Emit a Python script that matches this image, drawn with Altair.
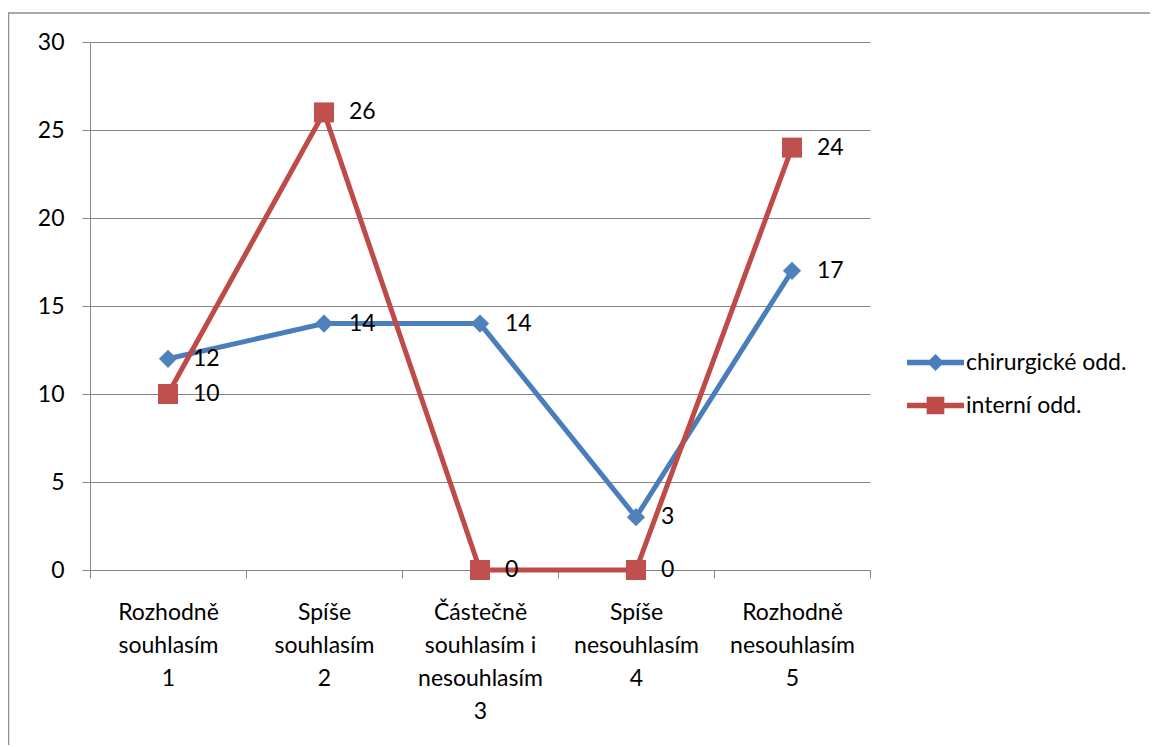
import altair as alt
import pandas as pd

categories = [
    "Rozhodně\nsouhlasím\n1",
    "Spíše\nsouhlasím\n2",
    "Částečně\nsouhlasím i\nnesouhlasím\n3",
    "Spíše\nnesouhlasím\n4",
    "Rozhodně\nnesouhlasím\n5",
]
series_names = ["chirurgické odd.", "interní odd."]
chirurgicke = [12, 14, 14, 3, 17]
interni = [10, 26, 0, 0, 24]
y_ticks = [0, 5, 10, 15, 20, 25, 30]

BLUE = "#4A7EBB"
RED = "#BE4B48"
FONT = "Lato"
FS = 23
GRID = "#868686"

rows = []
for c, v in zip(categories, chirurgicke):
    rows.append({"cat": c, "value": v, "series": series_names[0]})
for c, v in zip(categories, interni):
    rows.append({"cat": c, "value": v, "series": series_names[1]})
df = pd.DataFrame(rows)

W, H = 780, 528

x_enc = alt.X(
    "cat:N",
    sort=categories,
    scale=alt.Scale(type="band", domain=categories, paddingInner=0, paddingOuter=0),
    axis=alt.Axis(
        title=None,
        labelAngle=0,
        labelAlign="center",
        labelBaseline="top",
        labelExpr="split(datum.label, '\\n')",
        labelLineHeight=33,
        labelPadding=23,
        labelFontSize=FS,
        labelFont=FONT,
        labelColor="#000000",
        tickBand="extent",
        tickSize=8,
        tickColor=GRID,
        domainColor=GRID,
        grid=False,
        labelLimit=0,
    ),
)
y_enc = alt.Y(
    "value:Q",
    scale=alt.Scale(domain=[0, 30], nice=False, zero=True),
    axis=alt.Axis(
        title=None,
        values=y_ticks,
        labelFontSize=FS,
        labelFont=FONT,
        labelColor="#000000",
        labelPadding=18,
        tickSize=8,
        tickColor=GRID,
        domainColor=GRID,
        grid=True,
        gridColor=GRID,
        gridWidth=1,
    ),
)

base = alt.Chart(df).encode(x=x_enc, y=y_enc)

blue_line = base.transform_filter(alt.datum.series == series_names[0]).mark_line(
    color=BLUE, strokeWidth=5
)
blue_pts = base.transform_filter(alt.datum.series == series_names[0]).mark_point(
    shape="diamond", filled=True, size=330, color="#4F81BD", opacity=1
)
red_line = base.transform_filter(alt.datum.series == series_names[1]).mark_line(
    color=RED, strokeWidth=5
)
red_pts = base.transform_filter(alt.datum.series == series_names[1]).mark_point(
    shape="square", filled=True, size=400, color="#C0504D", opacity=1
)
labels = base.mark_text(
    align="left", baseline="middle", dx=25, fontSize=FS, font=FONT, color="#000000"
).encode(text="value:Q")

diamond_path = "M-1,-0.1H1V0.1H-1Z M-0.3,0L0,-0.3L0.3,0L0,0.3Z"
square_path = "M-1,-0.1H1V0.1H-1Z M-0.31,-0.31H0.31V0.31H-0.31Z"

legend_props = dict(
    title=None,
    orient="none",
    legendX=817,
    legendY=292,
    padding=0,
    symbolSize=3249,
    symbolOpacity=1,
    symbolStrokeWidth=0,
    labelFontSize=FS,
    labelFont=FONT,
    labelColor="#000000",
    labelOffset=2,
    labelLimit=0,
    rowPadding=2,
)

legend_layer = base.mark_point(filled=True, opacity=0).encode(
    color=alt.Color(
        "series:N",
        scale=alt.Scale(domain=series_names, range=[BLUE, RED]),
        legend=alt.Legend(**legend_props),
    ),
    shape=alt.Shape(
        "series:N",
        scale=alt.Scale(domain=series_names, range=[diamond_path, square_path]),
        legend=alt.Legend(**legend_props),
    ),
)

one = alt.Data(values=[{"k": 1}])
frame_top = alt.Chart(one).mark_rule(color="#8c8c8c", strokeWidth=1.5).encode(
    x=alt.value(-82), x2=alt.value(1080), y=alt.value(-29)
)
frame_left = alt.Chart(one).mark_rule(color="#8c8c8c", strokeWidth=1.5).encode(
    x=alt.value(-81.5), y=alt.value(-29), y2=alt.value(720)
)

chart = (
    alt.layer(
        frame_top,
        frame_left,
        legend_layer,
        blue_line,
        blue_pts,
        red_line,
        red_pts,
        labels,
    )
    .properties(
        width=W,
        height=H,
        autosize=alt.AutoSizeParams(type="none"),
        padding={"left": 82, "top": 34, "right": 280, "bottom": 175},
        background="#ffffff",
    )
    .configure_view(stroke=None)
)

chart.save("out.html", embed_options={"renderer": "svg", "actions": False})
